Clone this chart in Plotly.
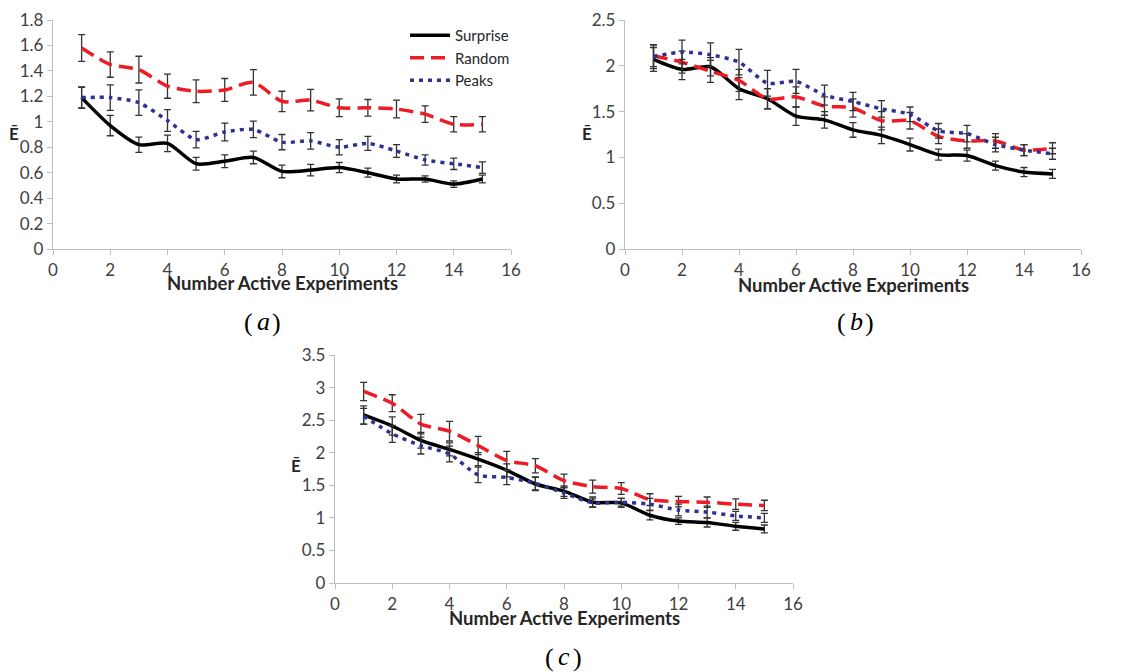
import plotly.graph_objects as go

# ---------------- data ----------------
x_vals = list(range(1, 16))
series_names = ["Surprise", "Random", "Peaks"]

# Panel (a)
a_surprise = [1.19, 0.97, 0.82, 0.83, 0.67, 0.69, 0.72, 0.61, 0.62, 0.64, 0.60, 0.55, 0.55, 0.51, 0.55]
a_surprise_err = [0.085, 0.08, 0.06, 0.065, 0.05, 0.05, 0.05, 0.05, 0.045, 0.04, 0.035, 0.03, 0.025, 0.025, 0.03]
a_random = [1.58, 1.45, 1.41, 1.28, 1.24, 1.25, 1.31, 1.16, 1.17, 1.11, 1.11, 1.10, 1.06, 0.98, 0.98]
a_random_err = [0.105, 0.10, 0.105, 0.095, 0.09, 0.09, 0.10, 0.08, 0.085, 0.07, 0.065, 0.07, 0.065, 0.06, 0.06]
a_peaks = [1.19, 1.19, 1.15, 1.01, 0.86, 0.92, 0.94, 0.84, 0.85, 0.80, 0.83, 0.77, 0.70, 0.67, 0.64]
a_peaks_err = [0.08, 0.10, 0.10, 0.085, 0.065, 0.07, 0.065, 0.06, 0.065, 0.06, 0.055, 0.05, 0.04, 0.045, 0.045]

# Panel (b)
b_surprise = [2.07, 1.96, 1.99, 1.75, 1.64, 1.45, 1.41, 1.30, 1.24, 1.14, 1.03, 1.02, 0.91, 0.84, 0.82]
b_surprise_err = [0.13, 0.11, 0.10, 0.12, 0.11, 0.10, 0.09, 0.08, 0.09, 0.07, 0.06, 0.06, 0.05, 0.05, 0.05]
b_random = [2.11, 2.04, 1.94, 1.84, 1.64, 1.66, 1.56, 1.54, 1.40, 1.40, 1.23, 1.18, 1.18, 1.08, 1.10]
b_random_err = [0.12, 0.12, 0.12, 0.12, 0.11, 0.11, 0.10, 0.10, 0.10, 0.09, 0.08, 0.08, 0.08, 0.06, 0.06]
b_peaks = [2.10, 2.15, 2.12, 2.04, 1.81, 1.83, 1.68, 1.61, 1.53, 1.47, 1.29, 1.26, 1.14, 1.08, 1.04]
b_peaks_err = [0.13, 0.13, 0.13, 0.14, 0.14, 0.13, 0.11, 0.10, 0.09, 0.08, 0.08, 0.09, 0.08, 0.06, 0.06]

# Panel (c)
c_surprise = [2.58, 2.41, 2.19, 2.05, 1.90, 1.73, 1.52, 1.41, 1.24, 1.23, 1.04, 0.95, 0.93, 0.87, 0.83]
c_surprise_err = [0.14, 0.14, 0.12, 0.10, 0.10, 0.10, 0.10, 0.08, 0.08, 0.07, 0.07, 0.05, 0.07, 0.06, 0.06]
c_random = [2.94, 2.76, 2.44, 2.33, 2.11, 1.88, 1.80, 1.57, 1.48, 1.45, 1.28, 1.25, 1.24, 1.21, 1.19]
c_random_err = [0.14, 0.13, 0.15, 0.15, 0.14, 0.14, 0.11, 0.10, 0.10, 0.09, 0.09, 0.08, 0.08, 0.08, 0.08]
c_peaks = [2.56, 2.29, 2.11, 1.98, 1.66, 1.62, 1.53, 1.38, 1.23, 1.24, 1.21, 1.12, 1.09, 1.03, 1.00]
c_peaks_err = [0.12, 0.13, 0.13, 0.12, 0.12, 0.11, 0.10, 0.08, 0.06, 0.06, 0.09, 0.09, 0.09, 0.07, 0.07]

x_ticks = [0, 2, 4, 6, 8, 10, 12, 14, 16]
y_ticks_a = [0, 0.2, 0.4, 0.6, 0.8, 1, 1.2, 1.4, 1.6, 1.8]
y_ticks_a_text = ["0", "0.2", "0.4", "0.6", "0.8", "1", "1.2", "1.4", "1.6", "1.8"]
y_ticks_b = [0, 0.5, 1, 1.5, 2, 2.5]
y_ticks_b_text = ["0", "0.5", "1", "1.5", "2", "2.5"]
y_ticks_c = [0, 0.5, 1, 1.5, 2, 2.5, 3, 3.5]
y_ticks_c_text = ["0", "0.5", "1", "1.5", "2", "2.5", "3", "3.5"]

x_title = "Number Active Experiments"
y_title = "Ē"
panel_letters = ["a", "b", "c"]

# ---------------- layout helpers ----------------
PAGE_W, PAGE_H = 1133, 672
OFF = 8                      # default page margin around the figure
W, H = PAGE_W - OFF, PAGE_H - OFF

def px_x(p):
    return (p - OFF) / W

def px_y(p):
    return 1 - (p - OFF) / H

# plot-area boxes in page pixels: (left, right, top, bottom)
boxes = {
    "a": (53, 511, 20, 249),
    "b": (625, 1081, 20, 249),
    "c": (335, 793, 355, 583),
}

styles = {
    "Surprise": dict(color="#000000", width=3.5, dash="solid"),
    "Random": dict(color="#ED1C24", width=3.5, dash="14px,7px"),
    "Peaks": dict(color="#2E3192", width=3.5, dash="4px,5px"),
}

fig = go.Figure()

panels = [
    ("a", "x", "y", [a_surprise, a_random, a_peaks], [a_surprise_err, a_random_err, a_peaks_err], True),
    ("b", "x2", "y2", [b_surprise, b_random, b_peaks], [b_surprise_err, b_random_err, b_peaks_err], False),
    ("c", "x3", "y3", [c_surprise, c_random, c_peaks], [c_surprise_err, c_random_err, c_peaks_err], False),
]

for key, xa, ya, ys, errs, show in panels:
    for name, yv, ev in zip(series_names, ys, errs):
        fig.add_trace(go.Scatter(
            x=x_vals, y=yv, name=name, mode="lines",
            line=dict(shape="spline", smoothing=0.7, **styles[name]),
            error_y=dict(type="data", array=ev, visible=True, color="#333333",
                         thickness=1.3, width=3.5),
            xaxis=xa, yaxis=ya, showlegend=show,
        ))

tick_font = dict(family="Lato", size=17, color="#404040")
axis_common = dict(showgrid=False, zeroline=False, showline=True, linecolor="#BFBFBF",
                   linewidth=1.3, ticks="outside", ticklen=5, tickcolor="#BFBFBF",
                   tickwidth=1.3, tickfont=tick_font, automargin=False)

y_specs = {"a": (1.8, y_ticks_a, y_ticks_a_text), "b": (2.5, y_ticks_b, y_ticks_b_text),
           "c": (3.5, y_ticks_c, y_ticks_c_text)}

layout_axes = {}
for i, key in enumerate(["a", "b", "c"]):
    l, r, t, b = boxes[key]
    sfx = "" if i == 0 else str(i + 1)
    ymax, yt, ytt = y_specs[key]
    layout_axes["xaxis" + sfx] = dict(domain=[px_x(l), px_x(r)], range=[0, 16],
                                      tickvals=x_ticks, anchor="y" + sfx, **axis_common)
    layout_axes["yaxis" + sfx] = dict(domain=[px_y(b), px_y(t)], range=[0, ymax],
                                      tickvals=yt, ticktext=ytt, anchor="x" + sfx, **axis_common)

fig.update_layout(**layout_axes)

annotations = []
title_pos = {"a": (282, 283), "b": (853, 285), "c": (564, 618)}
ylab_pos = {"a": (14, 133), "b": (587, 133), "c": (296, 465)}
label_pos = {"a": (263, 322), "b": (856, 322), "c": (564, 657)}
for key, letter in zip(["a", "b", "c"], panel_letters):
    tx, ty = title_pos[key]
    annotations.append(dict(text="<b>" + x_title + "</b>", x=px_x(tx), y=px_y(ty),
                            xref="paper", yref="paper", showarrow=False,
                            xanchor="center", yanchor="middle",
                            font=dict(family="Lato", size=18.5, color="#262626")))
    lx, ly = ylab_pos[key]
    annotations.append(dict(text="<b>" + y_title + "</b>", x=px_x(lx), y=px_y(ly),
                            xref="paper", yref="paper", showarrow=False,
                            xanchor="center", yanchor="middle",
                            font=dict(family="Lato", size=17, color="#262626")))
    px_, py_ = label_pos[key]
    annotations.append(dict(text="<i>" + letter + "</i>", x=px_x(px_), y=px_y(py_ - 1),
                            xref="paper", yref="paper", showarrow=False,
                            xanchor="center", yanchor="middle",
                            font=dict(family="Liberation Serif", size=26, color="#000000")))
    annotations.append(dict(text="(", x=px_x(px_ - 15), y=px_y(py_),
                            xref="paper", yref="paper", showarrow=False,
                            xanchor="center", yanchor="middle",
                            font=dict(family="Liberation Serif", size=26, color="#000000")))
    annotations.append(dict(text=")", x=px_x(px_ + 13), y=px_y(py_),
                            xref="paper", yref="paper", showarrow=False,
                            xanchor="center", yanchor="middle",
                            font=dict(family="Liberation Serif", size=26, color="#000000")))

fig.update_layout(
    width=W, height=H,
    margin=dict(l=0, r=0, t=0, b=0, pad=0, autoexpand=False),
    paper_bgcolor="white", plot_bgcolor="white",
    annotations=annotations,
    legend=dict(x=px_x(405), y=px_y(19), xanchor="left", yanchor="top",
                bgcolor="rgba(0,0,0,0)", font=dict(family="Lato", size=15, color="#262626"),
                itemwidth=40, tracegroupgap=0),
)

fig.write_html("out.html")
